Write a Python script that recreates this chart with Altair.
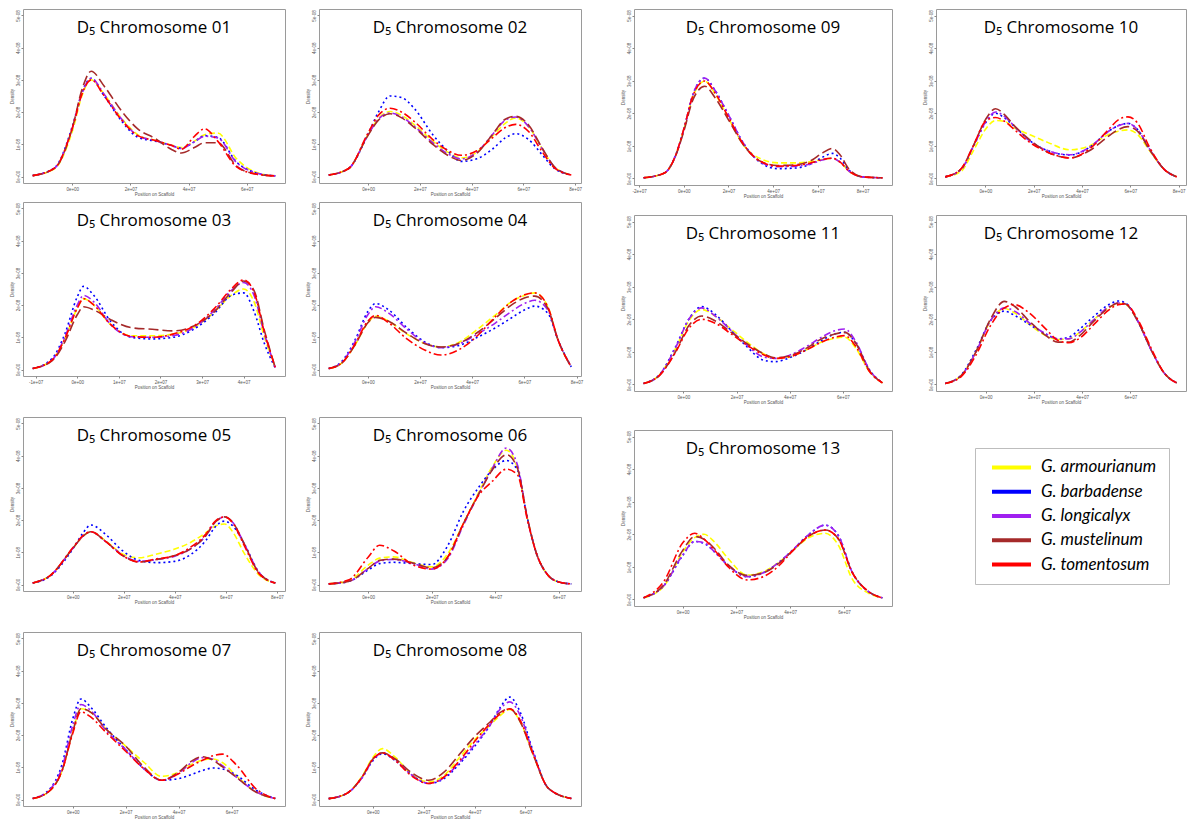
import altair as alt
import pandas as pd

SPECIES = ["G. armourianum", "G. barbadense", "G. longicalyx", "G. mustelinum", "G. tomentosum"]
COLORS = ["#FFFF00", "#0000FF", "#A020F0", "#A52A2A", "#FF0000"]
DASHES = [[6, 3], [2, 3], [2, 3, 7, 3], [10, 4], [8, 3, 2, 3]]

# x in units of 1e7 (position on scaffold), y in units of 1e-8 (density)
X01 = [-1.36, -0.6, 0.0, 0.35, 0.65, 1.1, 1.7, 2.25, 2.85, 3.4, 3.75, 4.2, 4.55, 5.0, 5.65, 6.3, 6.98]
ARM01 = [0.03, 0.25, 1.4, 2.55, 3.0, 2.55, 1.8, 1.3, 1.12, 0.98, 0.9, 1.1, 1.3, 1.35, 0.55, 0.14, 0.02]
BAR01 = [0.03, 0.28, 1.55, 2.65, 3.05, 2.5, 1.72, 1.22, 1.1, 0.97, 0.88, 1.08, 1.27, 1.22, 0.45, 0.12, 0.02]
LON01 = [0.03, 0.27, 1.5, 2.62, 3.05, 2.55, 1.78, 1.27, 1.12, 0.97, 0.87, 1.08, 1.25, 1.2, 0.43, 0.12, 0.02]
MUS01 = [0.03, 0.26, 1.5, 2.75, 3.27, 2.8, 2.03, 1.48, 1.18, 0.85, 0.73, 0.9, 1.05, 1.05, 0.32, 0.08, 0.02]
TOM01 = [0.03, 0.27, 1.5, 2.6, 3.0, 2.5, 1.75, 1.27, 1.12, 0.97, 0.85, 1.25, 1.48, 1.1, 0.3, 0.08, 0.02]

X02 = [-1.52, -0.75, 0.0, 0.4, 0.85, 1.3, 1.8, 2.5, 3.1, 3.6, 4.2, 4.8, 5.3, 5.7, 6.2, 6.7, 7.2, 7.85]
ARM02 = [0.05, 0.25, 1.3, 1.8, 2.02, 1.9, 1.6, 1.1, 0.75, 0.58, 0.75, 1.25, 1.65, 1.82, 1.55, 0.9, 0.3, 0.05]
BAR02 = [0.05, 0.25, 1.32, 2.0, 2.5, 2.45, 2.1, 1.3, 0.78, 0.47, 0.55, 0.85, 1.2, 1.33, 1.15, 0.7, 0.25, 0.05]
LON02 = [0.05, 0.25, 1.3, 1.78, 1.97, 1.85, 1.55, 1.05, 0.7, 0.55, 0.75, 1.3, 1.75, 1.85, 1.55, 0.9, 0.3, 0.05]
MUS02 = [0.05, 0.25, 1.28, 1.75, 1.95, 1.82, 1.52, 1.0, 0.65, 0.5, 0.72, 1.3, 1.78, 1.87, 1.6, 0.92, 0.3, 0.05]
TOM02 = [0.05, 0.25, 1.35, 1.9, 2.12, 2.0, 1.7, 1.15, 0.8, 0.66, 0.8, 1.2, 1.52, 1.62, 1.4, 0.8, 0.27, 0.05]

X03 = [-1.07, -0.6, -0.3, 0.0, 0.15, 0.4, 0.8, 1.3, 1.8, 2.3, 2.8, 3.3, 3.7, 4.0, 4.25, 4.5, 4.76]
ARM03 = [0.03, 0.3, 0.95, 1.9, 2.2, 2.0, 1.4, 1.05, 1.05, 1.1, 1.3, 1.8, 2.3, 2.5, 2.1, 1.0, 0.06]
BAR03 = [0.03, 0.35, 1.1, 2.25, 2.58, 2.3, 1.5, 1.0, 0.95, 1.0, 1.25, 1.75, 2.3, 2.38, 1.8, 0.8, 0.05]
LON03 = [0.03, 0.3, 1.0, 2.0, 2.3, 2.1, 1.4, 1.02, 1.0, 1.05, 1.3, 1.85, 2.45, 2.7, 2.3, 1.1, 0.06]
MUS03 = [0.03, 0.28, 0.85, 1.7, 1.95, 1.85, 1.55, 1.3, 1.25, 1.2, 1.35, 1.8, 2.4, 2.75, 2.45, 1.2, 0.06]
TOM03 = [0.03, 0.3, 0.95, 1.9, 2.2, 2.0, 1.4, 1.03, 1.0, 1.1, 1.35, 1.9, 2.5, 2.78, 2.4, 1.15, 0.06]

X04 = [-1.5, -1.0, -0.5, 0.0, 0.3, 0.8, 1.5, 2.2, 2.8, 3.5, 4.2, 4.9, 5.5, 6.0, 6.4, 6.9, 7.3, 7.8]
ARM04 = [0.03, 0.2, 0.75, 1.45, 1.65, 1.5, 1.1, 0.8, 0.7, 0.85, 1.25, 1.7, 2.1, 2.3, 2.38, 1.95, 0.9, 0.08]
BAR04 = [0.03, 0.25, 0.9, 1.8, 2.05, 1.85, 1.3, 0.85, 0.68, 0.75, 1.0, 1.3, 1.6, 1.85, 1.97, 1.75, 0.9, 0.08]
LON04 = [0.03, 0.22, 0.85, 1.7, 1.95, 1.75, 1.25, 0.82, 0.68, 0.8, 1.1, 1.45, 1.8, 2.05, 2.15, 1.85, 0.9, 0.08]
MUS04 = [0.03, 0.2, 0.75, 1.45, 1.62, 1.5, 1.12, 0.8, 0.7, 0.82, 1.15, 1.6, 2.0, 2.22, 2.28, 1.9, 0.9, 0.08]
TOM04 = [0.03, 0.2, 0.78, 1.5, 1.68, 1.45, 0.95, 0.6, 0.45, 0.62, 1.05, 1.65, 2.1, 2.32, 2.38, 1.95, 0.9, 0.08]

X05 = [-1.57, -0.9, 0.0, 0.4, 0.71, 1.3, 1.95, 2.6, 3.3, 4.0, 4.6, 5.2, 5.6, 5.95, 6.3, 6.7, 7.3, 7.94]
ARM05 = [0.05, 0.27, 1.12, 1.5, 1.64, 1.35, 0.95, 0.83, 0.95, 1.1, 1.3, 1.6, 1.82, 1.88, 1.6, 1.0, 0.3, 0.05]
BAR05 = [0.05, 0.25, 1.1, 1.6, 1.85, 1.55, 1.05, 0.75, 0.68, 0.72, 0.92, 1.35, 1.8, 1.97, 1.8, 1.3, 0.38, 0.05]
LON05 = [0.05, 0.27, 1.12, 1.5, 1.64, 1.33, 0.92, 0.72, 0.78, 0.88, 1.1, 1.5, 1.95, 2.1, 1.9, 1.3, 0.38, 0.05]
MUS05 = [0.05, 0.27, 1.12, 1.5, 1.64, 1.33, 0.9, 0.7, 0.78, 0.9, 1.1, 1.5, 1.95, 2.1, 1.9, 1.3, 0.36, 0.05]
TOM05 = [0.05, 0.27, 1.14, 1.52, 1.64, 1.33, 0.9, 0.7, 0.8, 0.9, 1.15, 1.55, 1.98, 2.1, 1.88, 1.25, 0.34, 0.05]

X06 = [-1.24, -0.6, 0.0, 0.36, 0.8, 1.4, 2.0, 2.5, 3.0, 3.5, 3.9, 4.35, 4.7, 5.0, 5.3, 5.65, 6.0, 6.39]
ARM06 = [0.02, 0.12, 0.6, 0.82, 0.86, 0.68, 0.55, 0.95, 1.9, 2.9, 3.65, 4.17, 3.6, 2.1, 0.95, 0.3, 0.08, 0.02]
BAR06 = [0.02, 0.1, 0.45, 0.65, 0.69, 0.65, 0.62, 1.2, 2.28, 3.05, 3.55, 3.85, 3.55, 2.1, 0.95, 0.3, 0.08, 0.02]
LON06 = [0.02, 0.1, 0.5, 0.73, 0.78, 0.66, 0.48, 0.8, 1.85, 2.85, 3.6, 4.24, 3.7, 2.1, 0.95, 0.3, 0.08, 0.02]
MUS06 = [0.02, 0.1, 0.5, 0.75, 0.79, 0.67, 0.52, 0.85, 1.9, 2.85, 3.55, 4.03, 3.6, 2.1, 0.95, 0.3, 0.08, 0.02]
TOM06 = [0.02, 0.15, 0.85, 1.22, 1.05, 0.62, 0.48, 0.85, 1.9, 2.8, 3.2, 3.58, 3.4, 2.05, 0.95, 0.3, 0.08, 0.02]

X07 = [-1.51, -0.9, -0.4, 0.0, 0.31, 0.7, 1.24, 2.0, 2.7, 3.35, 4.0, 4.5, 4.9, 5.3, 5.65, 6.2, 6.9, 7.65]
ARM07 = [0.03, 0.25, 0.9, 2.1, 2.82, 2.7, 2.2, 1.66, 1.15, 0.72, 0.85, 1.1, 1.22, 1.26, 1.15, 0.72, 0.25, 0.03]
BAR07 = [0.03, 0.3, 1.1, 2.5, 3.12, 2.85, 2.26, 1.55, 0.95, 0.6, 0.65, 0.78, 0.9, 0.98, 0.95, 0.75, 0.3, 0.03]
LON07 = [0.03, 0.28, 1.0, 2.3, 2.95, 2.75, 2.16, 1.55, 0.95, 0.6, 0.82, 1.15, 1.3, 1.25, 1.05, 0.68, 0.25, 0.03]
MUS07 = [0.03, 0.25, 0.9, 2.1, 2.82, 2.7, 2.2, 1.66, 1.0, 0.6, 0.85, 1.2, 1.33, 1.22, 1.02, 0.68, 0.24, 0.03]
TOM07 = [0.03, 0.25, 0.9, 2.05, 2.72, 2.55, 2.1, 1.5, 0.95, 0.6, 0.8, 1.05, 1.22, 1.36, 1.41, 1.06, 0.35, 0.03]

X08 = [-1.73, -1.0, -0.4, 0.0, 0.38, 0.9, 1.5, 2.2, 2.8, 3.4, 4.0, 4.6, 5.0, 5.38, 5.8, 6.3, 6.9, 7.8]
ARM08 = [0.03, 0.2, 0.75, 1.3, 1.58, 1.3, 0.8, 0.55, 0.75, 1.3, 1.85, 2.3, 2.6, 2.8, 2.4, 1.4, 0.35, 0.03]
BAR08 = [0.03, 0.2, 0.7, 1.2, 1.42, 1.2, 0.78, 0.5, 0.65, 1.1, 1.65, 2.3, 2.85, 3.18, 2.7, 1.5, 0.35, 0.03]
LON08 = [0.03, 0.2, 0.7, 1.22, 1.45, 1.22, 0.78, 0.5, 0.68, 1.15, 1.7, 2.3, 2.8, 3.03, 2.6, 1.45, 0.35, 0.03]
MUS08 = [0.03, 0.2, 0.72, 1.25, 1.45, 1.25, 0.85, 0.6, 0.85, 1.4, 1.95, 2.4, 2.7, 2.82, 2.4, 1.4, 0.35, 0.03]
TOM08 = [0.03, 0.2, 0.72, 1.25, 1.45, 1.2, 0.75, 0.5, 0.7, 1.2, 1.8, 2.35, 2.65, 2.82, 2.45, 1.42, 0.35, 0.03]

X09 = [-1.8, -0.86, -0.36, 0.0, 0.43, 0.94, 1.4, 2.0, 2.7, 3.45, 4.2, 5.0, 5.7, 6.2, 6.65, 7.0, 7.4, 8.0, 8.89]
ARM09 = [0.02, 0.17, 0.72, 1.5, 2.55, 2.99, 2.6, 1.85, 1.0, 0.6, 0.48, 0.48, 0.52, 0.58, 0.62, 0.5, 0.22, 0.05, 0.02]
BAR09 = [0.02, 0.17, 0.72, 1.5, 2.62, 3.08, 2.7, 1.95, 1.05, 0.48, 0.3, 0.32, 0.45, 0.65, 0.77, 0.62, 0.25, 0.05, 0.02]
LON09 = [0.02, 0.17, 0.72, 1.5, 2.62, 3.08, 2.7, 1.95, 1.05, 0.5, 0.36, 0.38, 0.45, 0.57, 0.62, 0.5, 0.22, 0.05, 0.02]
MUS09 = [0.02, 0.17, 0.7, 1.45, 2.45, 2.83, 2.48, 1.8, 1.0, 0.52, 0.4, 0.42, 0.55, 0.78, 0.92, 0.72, 0.28, 0.05, 0.02]
TOM09 = [0.02, 0.17, 0.72, 1.52, 2.58, 2.99, 2.62, 1.88, 1.02, 0.52, 0.38, 0.4, 0.48, 0.58, 0.62, 0.5, 0.22, 0.05, 0.02]

X10 = [-1.66, -1.0, -0.5, 0.0, 0.42, 0.8, 1.2, 1.85, 2.6, 3.5, 4.3, 5.1, 5.5, 5.9, 6.3, 6.8, 7.4, 7.92]
ARM10 = [0.05, 0.22, 0.85, 1.5, 1.78, 1.75, 1.55, 1.34, 1.1, 0.88, 1.0, 1.35, 1.45, 1.49, 1.35, 0.85, 0.28, 0.05]
BAR10 = [0.05, 0.28, 0.98, 1.7, 2.0, 1.85, 1.6, 1.15, 0.85, 0.72, 0.95, 1.45, 1.62, 1.69, 1.5, 0.9, 0.28, 0.05]
LON10 = [0.05, 0.28, 0.98, 1.72, 2.04, 1.9, 1.6, 1.15, 0.85, 0.73, 0.95, 1.45, 1.62, 1.69, 1.5, 0.9, 0.28, 0.05]
MUS10 = [0.05, 0.3, 1.0, 1.8, 2.14, 1.95, 1.62, 1.18, 0.8, 0.63, 0.85, 1.3, 1.5, 1.59, 1.45, 0.88, 0.28, 0.05]
TOM10 = [0.05, 0.3, 1.0, 1.75, 1.87, 1.75, 1.5, 1.1, 0.8, 0.63, 0.9, 1.5, 1.8, 1.89, 1.7, 0.95, 0.28, 0.05]

X11 = [-1.5, -0.9, -0.3, 0.2, 0.69, 1.2, 1.8, 2.4, 3.0, 3.45, 4.0, 4.6, 5.2, 5.7, 6.07, 6.5, 7.0, 7.49]
ARM11 = [0.03, 0.3, 1.1, 1.95, 2.3, 2.1, 1.7, 1.3, 0.95, 0.8, 0.85, 1.05, 1.3, 1.42, 1.45, 1.1, 0.4, 0.05]
BAR11 = [0.03, 0.3, 1.15, 2.0, 2.39, 2.15, 1.65, 1.15, 0.75, 0.7, 0.82, 1.05, 1.35, 1.55, 1.6, 1.25, 0.45, 0.05]
LON11 = [0.03, 0.3, 1.12, 2.0, 2.35, 2.1, 1.65, 1.2, 0.85, 0.8, 0.9, 1.15, 1.45, 1.65, 1.7, 1.3, 0.45, 0.05]
MUS11 = [0.03, 0.28, 1.0, 1.8, 2.1, 1.95, 1.6, 1.25, 0.95, 0.82, 0.88, 1.1, 1.4, 1.55, 1.6, 1.25, 0.42, 0.05]
TOM11 = [0.03, 0.28, 0.98, 1.72, 2.0, 1.88, 1.55, 1.2, 0.92, 0.8, 0.85, 1.05, 1.3, 1.45, 1.5, 1.15, 0.4, 0.05]

X12 = [-1.67, -1.0, -0.4, 0.2, 0.78, 1.2, 1.8, 2.5, 3.0, 3.45, 3.9, 4.5, 5.1, 5.5, 5.8, 6.3, 6.9, 7.4, 7.92]
ARM12 = [0.03, 0.28, 1.0, 1.95, 2.33, 2.2, 1.85, 1.5, 1.38, 1.4, 1.6, 2.0, 2.35, 2.48, 2.45, 1.95, 1.0, 0.35, 0.05]
BAR12 = [0.03, 0.3, 1.05, 1.95, 2.25, 2.12, 1.85, 1.55, 1.4, 1.45, 1.7, 2.1, 2.45, 2.56, 2.5, 1.95, 1.0, 0.35, 0.05]
LON12 = [0.03, 0.28, 1.0, 1.95, 2.35, 2.25, 1.9, 1.55, 1.4, 1.4, 1.6, 2.0, 2.38, 2.5, 2.47, 1.95, 1.0, 0.35, 0.05]
MUS12 = [0.03, 0.28, 1.0, 2.0, 2.55, 2.4, 1.95, 1.5, 1.3, 1.3, 1.5, 1.95, 2.35, 2.5, 2.47, 1.95, 1.0, 0.35, 0.05]
TOM12 = [0.03, 0.25, 0.9, 1.8, 2.35, 2.45, 2.2, 1.7, 1.35, 1.28, 1.42, 1.85, 2.28, 2.45, 2.47, 2.0, 1.05, 0.35, 0.05]

X13 = [-1.45, -0.7, 0.0, 0.45, 0.8, 1.2, 1.7, 2.4, 3.0, 3.6, 4.1, 4.7, 5.3, 5.8, 6.3, 6.9, 7.43]
ARM13 = [0.05, 0.4, 1.45, 1.9, 2.0, 1.75, 1.25, 0.75, 0.85, 1.15, 1.5, 1.9, 2.03, 1.65, 0.64, 0.2, 0.05]
BAR13 = [0.05, 0.42, 1.34, 1.78, 1.72, 1.45, 1.04, 0.7, 0.82, 1.15, 1.52, 2.0, 2.28, 1.95, 0.85, 0.25, 0.05]
LON13 = [0.05, 0.42, 1.36, 1.78, 1.74, 1.45, 1.04, 0.7, 0.82, 1.15, 1.52, 2.0, 2.28, 1.95, 0.85, 0.25, 0.05]
MUS13 = [0.05, 0.45, 1.5, 1.93, 1.85, 1.55, 1.06, 0.74, 0.82, 1.12, 1.5, 1.95, 2.13, 1.85, 0.84, 0.25, 0.05]
TOM13 = [0.05, 0.55, 1.73, 2.03, 1.85, 1.5, 1.0, 0.6, 0.7, 1.05, 1.5, 1.95, 2.13, 1.85, 0.84, 0.25, 0.05]

TICKS = {
    "01": [0, 2, 4, 6], "02": [0, 2, 4, 6, 8], "03": [-1, 0, 1, 2, 3, 4, 5],
    "04": [0, 2, 4, 6, 8], "05": [0, 2, 4, 6, 8], "06": [0, 2, 4, 6],
    "07": [0, 2, 4, 6], "08": [0, 2, 4, 6], "09": [-2, 0, 2, 4, 6, 8],
    "10": [0, 2, 4, 6, 8], "11": [0, 2, 4, 6], "12": [0, 2, 4, 6], "13": [0, 2, 4, 6],
}
Y_TICKS = [0, 1, 2, 3, 4, 5]

color_scale = alt.Scale(domain=SPECIES, range=COLORS)
dash_scale = alt.Scale(domain=SPECIES, range=DASHES)


def panel(num, xs, series, w, h):
    rows = []
    for name, ys in zip(SPECIES, series):
        for x, y in zip(xs, ys):
            rows.append({"x": x, "y": y, "species": name})
    df = pd.DataFrame(rows)
    lo, hi = min(xs), max(xs)
    pad = 0.04 * (hi - lo)
    lines = alt.Chart(df).mark_line(strokeWidth=1.6, interpolate="monotone").encode(
        x=alt.X("x:Q",
                scale=alt.Scale(domain=[lo - pad, hi + pad], nice=False, zero=False),
                axis=alt.Axis(values=TICKS[num], title="Position on Scaffold",
                              labelExpr="datum.value == 0 ? '0e+00' : (datum.value < 0 ? '-' : '') + abs(datum.value) + 'e+07'")),
        y=alt.Y("y:Q",
                scale=alt.Scale(domain=[-0.2, 5.2], nice=False, zero=False),
                axis=alt.Axis(values=Y_TICKS, title="Density", labelAngle=270,
                              labelExpr="datum.value == 0 ? '0e+00' : datum.value + 'e-08'")),
        color=alt.Color("species:N", scale=color_scale, legend=None),
        strokeDash=alt.StrokeDash("species:N", scale=dash_scale, legend=None),
    )
    title = alt.Chart(pd.DataFrame({"t": ["D\u2085 Chromosome " + num]})).mark_text(
        font="Open Sans", fontSize=17, color="black", baseline="alphabetic", align="center"
    ).encode(x=alt.value(w / 2), y=alt.value(24), text="t:N")
    return alt.layer(lines, title).properties(width=w, height=h)


WL, HL = 262, 174
HR = 176

p01 = panel("01", X01, [ARM01, BAR01, LON01, MUS01, TOM01], WL, HL)
p02 = panel("02", X02, [ARM02, BAR02, LON02, MUS02, TOM02], WL, HL)
p03 = panel("03", X03, [ARM03, BAR03, LON03, MUS03, TOM03], WL, HL)
p04 = panel("04", X04, [ARM04, BAR04, LON04, MUS04, TOM04], WL, HL)
p05 = panel("05", X05, [ARM05, BAR05, LON05, MUS05, TOM05], WL, HL)
p06 = panel("06", X06, [ARM06, BAR06, LON06, MUS06, TOM06], WL, HL)
p07 = panel("07", X07, [ARM07, BAR07, LON07, MUS07, TOM07], WL, HL)
p08 = panel("08", X08, [ARM08, BAR08, LON08, MUS08, TOM08], WL, HL)
p09 = panel("09", X09, [ARM09, BAR09, LON09, MUS09, TOM09], 258, HR)
p10 = panel("10", X10, [ARM10, BAR10, LON10, MUS10, TOM10], 250, HR)
p11 = panel("11", X11, [ARM11, BAR11, LON11, MUS11, TOM11], 258, HR)
p12 = panel("12", X12, [ARM12, BAR12, LON12, MUS12, TOM12], 250, HR)
p13 = panel("13", X13, [ARM13, BAR13, LON13, MUS13, TOM13], 258, HR)

# legend box
leg_df = pd.DataFrame({"species": SPECIES})
leg_y = alt.Y("species:N", sort=SPECIES, axis=None, scale=alt.Scale(type="point", padding=0.8))
leg_rule = alt.Chart(leg_df).mark_rule(strokeWidth=4).encode(
    x=alt.value(17), x2=alt.value(56), y=leg_y,
    color=alt.Color("species:N", scale=color_scale, legend=None),
)
leg_text = alt.Chart(leg_df).mark_text(
    align="left", baseline="middle", font="Lato", fontSize=17, fontStyle="italic", color="black"
).encode(x=alt.value(66), y=leg_y, text="species:N")
legend = alt.layer(leg_rule, leg_text).properties(width=194, height=136, view={"stroke": "#bdbdbd"})
spacer = alt.Chart(leg_df).mark_point(opacity=0, size=1).encode(
    x=alt.value(1), y=alt.value(1)
).properties(width=194, height=16, view={"stroke": "transparent"})
legend_col = alt.vconcat(spacer, legend, spacing=0)

row1 = alt.hconcat(p01, p02, spacing=18)
row2 = alt.hconcat(p03, p04, spacing=18)
row3 = alt.hconcat(p05, p06, spacing=18)
row4 = alt.hconcat(p07, p08, spacing=18)
left = alt.vconcat(alt.vconcat(row1, row2, spacing=4), row3, row4, spacing=26)

rrow1 = alt.hconcat(p09, p10, spacing=28)
rrow2 = alt.hconcat(p11, p12, spacing=28)
rrow3 = alt.hconcat(p13, legend_col, spacing=81)
right = alt.vconcat(alt.vconcat(rrow1, rrow2, spacing=15), rrow3, spacing=24)

chart = alt.hconcat(left, right, spacing=35).properties(padding=0).configure_view(
    stroke="#9a9a9a", strokeWidth=1
).configure_axis(
    grid=False, domain=False, labelFontSize=4.5, titleFontSize=4.5,
    labelColor="#555", titleColor="#555", titleFontWeight="normal",
    tickSize=2, tickColor="#888", labelPadding=1, titlePadding=1,
)

chart.save("out.html", embed_options={"renderer": "svg", "actions": False})
